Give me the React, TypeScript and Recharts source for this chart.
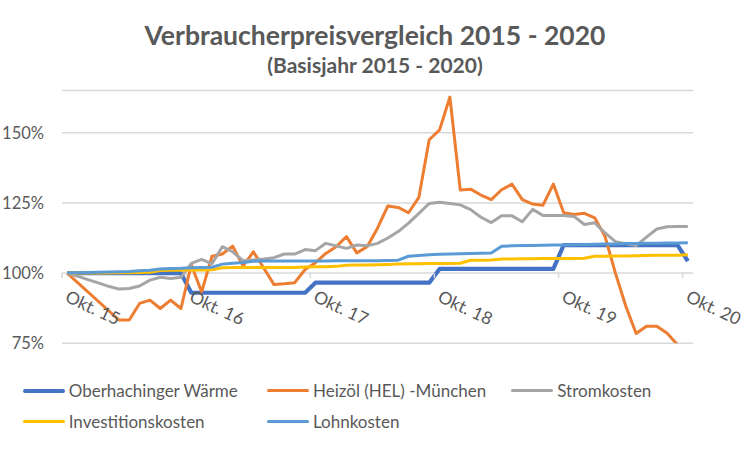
import { CartesianGrid, Legend, Line, LineChart, XAxis, YAxis } from "recharts";

// Monatswerte Okt. 15 bis Okt. 20 (Index 100 = Okt. 15)
const xLabels = ["Okt. 15", "Okt. 16", "Okt. 17", "Okt. 18", "Okt. 19", "Okt. 20"];
const yTicks = [75, 100, 125, 150];

const waerme = [
  100, 100, 100, 100, 100, 100, 100, 100, 100, 100, 100, 100,
  93, 93, 93, 93, 93, 93, 93, 93, 93, 93, 93, 93,
  96.6, 96.6, 96.6, 96.6, 96.6, 96.6, 96.6, 96.6, 96.6, 96.6, 96.6, 96.6,
  101.5, 101.5, 101.5, 101.5, 101.5, 101.5, 101.5, 101.5, 101.5, 101.5, 101.5, 101.5,
  110, 110, 110, 110, 110, 110, 110, 110, 110, 110, 110, 110, 104.3,
];

const heizoel = [
  100, null, null, null, null, 83.3, 83.3, 89.2, 90.4, 87.4, 90.4, 87.4,
  103, 93.3, 106, 106.8, 109.6, 102.5, 107.6, 101.8, 95.9, 96.2, 96.6, 101.3,
  103.7, 107, 109.4, 113, 107.2, 109.4, 116, 123.9, 123.4, 121.5, 127, 147.5,
  151, 162.7, 129.6, 129.9, 127.8, 126.2, 129.7, 131.7, 126.2, 124.6, 124.2, 131.7,
  121.5, 120.9, 121.3, 119.7, 113, 100, 88.3, 78.5, 81.1, 81.1, 78.6, 74.5, null,
];

const strom = [
  100, 98.9, 97.7, 96.5, 95.3, 94.3, 94.5, 95.4, 97.5, 98.5, 98.1, 98.5,
  103.5, 104.9, 103.3, 109.4, 107.6, 104.4, 104.7, 105, 105.5, 106.8, 106.8, 108.4,
  108, 110.6, 109.7, 108.8, 110, 109.7, 110.6, 112.5, 114.8, 117.8, 121.3, 124.8,
  125.2, 124.8, 124.3, 122.6, 119.9, 118, 120.4, 120.4, 118.3, 122.7, 120.5, 120.5,
  120.5, 120.2, 117.3, 117.9, 114.3, 111.2, 110.5, 109.8, 112.8, 115.7, 116.5, 116.6, 116.6,
];

const invest = [
  100, 100, 100, 100, 100, 100.1, 100.1, 100.2, 100.3, 100.9, 101, 101,
  101.1, 101.1, 101.2, 101.9, 102, 102, 102, 102, 102, 102, 102, 102.2,
  102.3, 102.3, 102.4, 102.8, 102.9, 102.9, 103, 103.1, 103.2, 103.3, 103.3, 103.4,
  103.4, 103.4, 103.5, 104.6, 104.6, 104.7, 105, 105, 105.1, 105.1, 105.2, 105.2,
  105.2, 105.2, 105.3, 106, 106, 106.1, 106.1, 106.2, 106.3, 106.4, 106.4, 106.4, 106.5,
];

const lohn = [
  100, 100.1, 100.2, 100.3, 100.4, 100.5, 100.6, 100.8, 101, 101.5, 101.6, 101.7,
  101.9, 102, 102.1, 103.2, 103.5, 103.8, 104.2, 104.3, 104.3, 104.3, 104.3, 104.3,
  104.3, 104.3, 104.4, 104.4, 104.4, 104.4, 104.4, 104.5, 104.6, 106, 106.3, 106.5,
  106.7, 106.8, 106.9, 107, 107.1, 107.2, 109.6, 109.7, 109.8, 109.8, 109.9, 110,
  110, 110.1, 110.2, 110.3, 110.4, 110.4, 110.5, 110.5, 110.6, 110.6, 110.7, 110.7, 110.8,
];

const series = [
  { key: "waerme", name: "Oberhachinger Wärme", color: "#4472C4", width: 4.2 },
  { key: "heizoel", name: "Heizöl (HEL) -München", color: "#ED7D31", width: 3 },
  { key: "strom", name: "Stromkosten", color: "#A5A5A5", width: 3 },
  { key: "invest", name: "Investitionskosten", color: "#FFC000", width: 3 },
  { key: "lohn", name: "Lohnkosten", color: "#5B9BD5", width: 3 },
];

const data = waerme.map((w, i) => ({
  i,
  waerme: w,
  heizoel: heizoel[i],
  strom: strom[i],
  invest: invest[i],
  lohn: lohn[i],
}));

const W = 750;
const H = 450;
const xAxisH = 30;
const margin = { top: 90.6, right: 57, bottom: 106.7 - xAxisH, left: 0 };
const yMin = 75;
const yMax = 165;
const plotH = H - margin.top - margin.bottom - xAxisH;
// x-Achse liegt bei 100 %
const baseShift = (plotH * (100 - yMin)) / (yMax - yMin);
const xTicks = xLabels.map((_, j) => j * 12 - 0.5);

const grey = "#595959";
const font = "Lato, 'Open Sans', sans-serif";

function MonthTick({ x, y, payload }: any) {
  const label = xLabels[Math.round((payload.value + 0.5) / 12)];
  const y0 = y - baseShift;
  return (
    <g>
      <line x1={x} x2={x} y1={y0} y2={y0 + 5} stroke="#d9d9d9" strokeWidth={1.5} />
      <text
        transform={`translate(${x + 2},${y0 + 28}) rotate(25)`}
        fill={grey}
        fontSize={17.5}
        fontFamily={font}
      >
        {label}
      </text>
    </g>
  );
}

function LegendBox({ payload }: any) {
  const items = series
    .map((s) => (payload || []).find((p: any) => p.dataKey === s.key))
    .filter(Boolean);
  return (
    <div
      style={{
        display: "flex",
        flexWrap: "wrap",
        paddingLeft: 22.7,
        width: 770,
        fontFamily: font,
        fontSize: 17,
        color: grey,
        boxSizing: "border-box",
      }}
    >
      {items.map((p: any) => {
        const s = series.find((d) => d.key === p.dataKey);
        return (
          <div
            key={p.value}
            style={{ width: 244.3, height: 30.5, display: "flex", alignItems: "center", whiteSpace: "nowrap" }}
          >
            <span
              style={{
                display: "inline-block",
                width: 42,
                height: s && s.width > 3.5 ? 4 : 3,
                background: p.color,
                marginRight: 4,
                borderRadius: 2,
              }}
            />
            <span>{p.value}</span>
          </div>
        );
      })}
    </div>
  );
}

export default function App() {
  return (
    <div style={{ position: "absolute", left: 0, top: 0, width: W, height: H, background: "#fff", overflow: "hidden" }}>
      <LineChart width={W} height={H} data={data} margin={margin}>
        <CartesianGrid vertical={false} stroke="#d9d9d9" strokeWidth={1.5} />
        <XAxis
          type="number"
          dataKey="i"
          domain={[-0.5, 60.5]}
          ticks={xTicks}
          height={xAxisH}
          axisLine={false}
          tickLine={false}
          tickSize={0}
          tickMargin={0}
          interval={0}
          tick={<MonthTick />}
        />
        <YAxis
          type="number"
          domain={[yMin, yMax]}
          ticks={yTicks}
          allowDataOverflow
          width={62}
          axisLine={false}
          tickLine={false}
          tickMargin={12}
          tick={{ fill: grey, fontSize: 16.5, fontFamily: font }}
          tickFormatter={(v) => `${v}%`}
        />
        <Legend
          layout="horizontal"
          verticalAlign="middle"
          align="center"
          wrapperStyle={{ top: 375.5, left: 0, width: 770 }}
          content={(props: any) => <LegendBox payload={props.payload} />}
        />
        {series.map((s) => (
          <Line
            key={s.key}
            type="linear"
            dataKey={s.key}
            name={s.name}
            stroke={s.color}
            strokeWidth={s.width}
            strokeLinejoin="round"
            dot={false}
            activeDot={false}
            connectNulls={s.key === "heizoel"}
            isAnimationActive={false}
          />
        ))}
      </LineChart>
      <svg
        width={W}
        height={90}
        style={{ position: "absolute", left: 0, top: 0, pointerEvents: "none" }}
      >
        <text x={375} y={45} textAnchor="middle" fill={grey} fontSize={26.5} fontWeight="bold" fontFamily={font}>
          Verbraucherpreisvergleich 2015 - 2020
        </text>
        <text x={375} y={72.5} textAnchor="middle" fill={grey} fontSize={21} fontWeight="bold" fontFamily={font}>
          (Basisjahr 2015 - 2020)
        </text>
      </svg>
    </div>
  );
}
